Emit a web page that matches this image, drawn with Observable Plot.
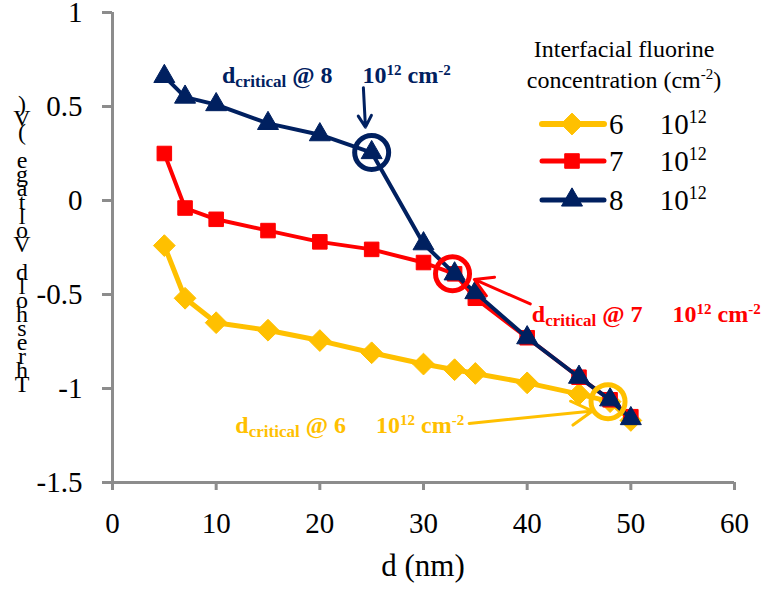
<!DOCTYPE html>
<html><head><meta charset="utf-8">
<script src="https://cdn.jsdelivr.net/npm/d3@7"></script>
<script src="https://cdn.jsdelivr.net/npm/@observablehq/plot@0.6"></script>
<style>body{margin:0;background:#fff;} #chart{width:768px;height:589px;}</style>
</head><body><div id="chart"></div>
<script>
// ---- data ----
const thickness = [5, 7, 10, 15, 20, 25, 30, 33, 35, 40, 45, 48, 50];
const vth6 = [-0.24, -0.52, -0.65, -0.69, -0.745, -0.81, -0.87, -0.90, -0.92, -0.97, -1.03, -1.07, -1.17];
const vth7 = [0.25, -0.04, -0.10, -0.16, -0.22, -0.26, -0.33, -0.39, -0.52, -0.73, -0.94, -1.06, -1.15];
const vth8 = [0.66, 0.55, 0.51, 0.41, 0.35, 0.255, -0.23, -0.39, -0.49, -0.73, -0.94, -1.06, -1.16];
const seriesLabels = ["6", "7", "8"];
const seriesColors = ["#FFC000", "#FF0000", "#002060"];
const xTicks = [0, 10, 20, 30, 40, 50, 60];
const yTicks = [1, 0.5, 0, -0.5, -1, -1.5];
const critX = [25, 32.8, 47.8];
const critY = [0.255, -0.39, -1.07];
const critColors = ["#002060", "#FF0000", "#FFC000"];
const critLabels = ["8", "7", "6"];
// annotation label anchors (data coords) and arrows
const noteX = [10.6, 40.5, 11.9];
const noteY = [0.62, -0.65, -1.24];
const arrowX1 = [24.2, 40.3, 34.4];
const arrowY1 = [0.60, -0.55, -1.186];
const arrowX2 = [24.4, 34.9, 46.3];
const arrowY2 = [0.39, -0.42, -1.12];
const xLabel = "d (nm)";
const yLabel = "Threshold Voltage (V)";
const legendTitle = ["Interfacial fluorine", "concentration (cm", "-2", ")"];

const FONT = "'Liberation Serif', 'Times New Roman', serif";
const AXIS = "#8c8c8c";

const styleBy = {
  "6": {symbol: "diamond2", r: 9.8, sw: 5},
  "7": {symbol: "square", r: 8.2, sw: 4},
  "8": {symbol: "triangle", r: 7.8, sw: 4}
};
const valuesBy = {"6": vth6, "7": vth7, "8": vth8};

const seriesMarks = [];
seriesLabels.forEach((s, i) => {
  const rows = thickness.map((d, j) => ({d, v: valuesBy[s][j]}));
  const st = styleBy[s];
  seriesMarks.push(Plot.line(rows, {x: "d", y: "v", stroke: seriesColors[i], strokeWidth: st.sw}));
  seriesMarks.push(Plot.dot(rows, {x: "d", y: "v", symbol: st.symbol, r: st.r, fill: seriesColors[i], stroke: seriesColors[i], strokeWidth: 1}));
});

const crit = critX.map((x, i) => ({x, y: critY[i], c: critColors[i]}));
const arrows = arrowX1.map((x1, i) => ({x1, y1: arrowY1[i], x2: arrowX2[i], y2: arrowY2[i], c: critColors[i]}));

const chart = Plot.plot({
  width: 768, height: 589,
  marginLeft: 112, marginRight: 34, marginTop: 12, marginBottom: 107,
  style: {fontFamily: FONT, background: "white", overflow: "visible"},
  x: {domain: [0, 60]},
  y: {domain: [-1.5, 1]},
  marks: [
    Plot.axisX({ticks: xTicks, tickSize: 8, tickPadding: 22, fontSize: 29, stroke: AXIS, strokeWidth: 3, fill: "black", label: null}),
    Plot.axisY({ticks: yTicks, tickSize: 10, tickPadding: 20, fontSize: 29, stroke: AXIS, strokeWidth: 3, fill: "black", label: null, tickFormat: d => String(d)}),
    Plot.ruleX([0], {stroke: AXIS, strokeWidth: 3}),
    Plot.ruleY([-1.5], {stroke: AXIS, strokeWidth: 3}),
    ...seriesMarks,
    Plot.dot(crit, {x: "x", y: "y", r: 17, stroke: "c", strokeWidth: 5, fill: "none"}),
    Plot.arrow(arrows, {x1: "x1", y1: "y1", x2: "x2", y2: "y2", stroke: "c", strokeWidth: 3, headLength: 12})
  ]
});
document.getElementById("chart").appendChild(chart);

const sx = chart.scale("x"), sy = chart.scale("y");
const svg = d3.select(chart);

// annotations
critLabels.forEach((lab, i) => {
  const t = svg.append("text")
    .attr("x", sx.apply(noteX[i])).attr("y", sy.apply(noteY[i]))
    .attr("text-anchor", "start")
    .attr("fill", critColors[i]).attr("font-family", FONT).attr("font-weight", "bold").attr("font-size", 24);
  t.append("tspan").text("d");
  t.append("tspan").attr("font-size", 17).attr("dy", 4).text("critical");
  t.append("tspan").attr("dy", -4).text(" @ " + lab + "\u2003 10");
  t.append("tspan").attr("font-size", 15).attr("dy", -8).text("12");
  t.append("tspan").attr("dy", 8).text(" cm");
  t.append("tspan").attr("font-size", 15).attr("dy", -8).text("-2");
});

// x label
svg.append("text").attr("x", 423).attr("y", 576).attr("text-anchor", "middle")
  .attr("font-family", FONT).attr("font-size", 31).attr("fill", "black").text(xLabel);

// y label: upright characters stacked bottom-to-top
const chars = yLabel.split("");
chars.forEach((ch, i) => {
  svg.append("text").attr("x", 22).attr("y", 392 - i * 14)
    .attr("text-anchor", "middle").attr("font-family", FONT).attr("font-size", 24)
    .attr("fill", "black").text(ch);
});

// legend title
svg.append("text").attr("x", 624).attr("y", 57).attr("text-anchor", "middle")
  .attr("font-family", FONT).attr("font-size", 24).attr("fill", "black").text(legendTitle[0]);
const lt = svg.append("text").attr("x", 624).attr("y", 88).attr("text-anchor", "middle")
  .attr("font-family", FONT).attr("font-size", 24).attr("fill", "black");
lt.append("tspan").text(legendTitle[1]);
lt.append("tspan").attr("font-size", 15).attr("dy", -9).text(legendTitle[2]);
lt.append("tspan").attr("dy", 9).text(legendTitle[3]);

// legend entries
const legY = [124, 161, 200];
seriesLabels.forEach((s, i) => {
  const st = styleBy[s];
  const g = svg.append("g");
  g.append("line").attr("x1", 542).attr("x2", 604).attr("y1", legY[i]).attr("y2", legY[i])
    .attr("stroke", seriesColors[i]).attr("stroke-width", st.sw + 1).attr("stroke-linecap", "round");
  const symMap = {diamond2: d3.symbolDiamond2, square: d3.symbolSquare, triangle: d3.symbolTriangle};
  g.append("path").attr("transform", `translate(572,${legY[i]})`)
    .attr("d", d3.symbol(symMap[st.symbol], Math.PI * st.r * st.r)())
    .attr("fill", seriesColors[i]).attr("stroke", seriesColors[i]);
  const t = g.append("text").attr("x", 609).attr("y", legY[i] + 10)
    .attr("text-anchor", "start")
    .attr("font-family", FONT).attr("font-size", 29).attr("fill", "black");
  t.append("tspan").text(s + "\u2003 10");
  t.append("tspan").attr("font-size", 18).attr("dy", -11).text("12");
});
</script></body></html>
